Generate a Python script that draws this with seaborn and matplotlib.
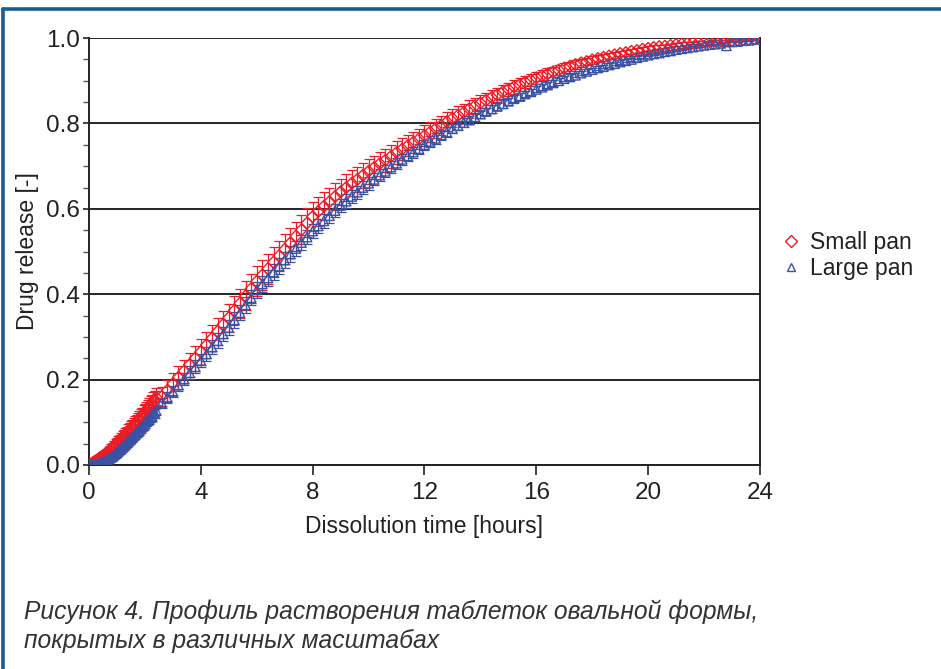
import matplotlib
matplotlib.use("Agg")
import matplotlib.pyplot as plt
from matplotlib.lines import Line2D
from matplotlib.ticker import MultipleLocator
import numpy as np
import pandas as pd
import seaborn as sns

# sampling schedule: dense start (3 min), then every 12 min
t_dense = np.round(np.arange(0, 49) * 0.05, 3)
t_sparse = np.round(np.arange(13, 121) * 0.2, 3)

small_dense = [
    0.000, 0.001, 0.003, 0.006, 0.008, 0.010, 0.012, 0.015, 0.017, 0.019,
    0.021, 0.024, 0.026, 0.029, 0.031, 0.035, 0.038, 0.041, 0.045, 0.048,
    0.052, 0.055, 0.058, 0.062, 0.065, 0.068, 0.072, 0.075, 0.080, 0.083,
    0.086, 0.090, 0.094, 0.097, 0.101, 0.105, 0.109, 0.113, 0.116, 0.121,
    0.124, 0.129, 0.132, 0.137, 0.141, 0.144, 0.149, 0.153, 0.158,
]
large_dense = [
    0.000, 0.000, 0.000, 0.001, 0.001, 0.002, 0.002, 0.003, 0.005, 0.006,
    0.007, 0.008, 0.009, 0.011, 0.014, 0.016, 0.018, 0.020, 0.023, 0.026,
    0.028, 0.032, 0.035, 0.037, 0.041, 0.044, 0.047, 0.051, 0.054, 0.058,
    0.061, 0.064, 0.068, 0.071, 0.075, 0.078, 0.081, 0.086, 0.089, 0.093,
    0.096, 0.101, 0.104, 0.107, 0.112, 0.115, 0.120, 0.123, 0.128,
]
small_dense_sd = [
    0.000, 0.001, 0.002, 0.003, 0.004, 0.005, 0.006, 0.006, 0.007, 0.007,
    0.008, 0.008, 0.009, 0.009, 0.010, 0.010, 0.011, 0.011, 0.012, 0.012,
    0.012, 0.013, 0.013, 0.013, 0.014, 0.014, 0.014, 0.015, 0.015, 0.015,
    0.016, 0.016, 0.016, 0.017, 0.017, 0.017, 0.018, 0.018, 0.018, 0.019,
    0.019, 0.019, 0.020, 0.020, 0.020, 0.021, 0.021, 0.021, 0.022,
]
large_dense_sd = [
    0.000, 0.000, 0.000, 0.001, 0.001, 0.001, 0.002, 0.002, 0.002, 0.003,
    0.003, 0.003, 0.004, 0.004, 0.004, 0.005, 0.005, 0.005, 0.006, 0.006,
    0.006, 0.006, 0.007, 0.007, 0.007, 0.007, 0.008, 0.008, 0.008, 0.008,
    0.008, 0.009, 0.009, 0.009, 0.009, 0.009, 0.010, 0.010, 0.010, 0.010,
    0.010, 0.010, 0.011, 0.011, 0.011, 0.011, 0.011, 0.012, 0.012,
]

# 2.6 h ... 24 h, one row per hour
small_sparse = [
    0.160, 0.175, 0.190,
    0.205, 0.220, 0.235, 0.250, 0.265,
    0.281, 0.297, 0.313, 0.329, 0.345,
    0.362, 0.379, 0.396, 0.413, 0.430,
    0.445, 0.460, 0.475, 0.490, 0.505,
    0.520, 0.536, 0.551, 0.567, 0.582,
    0.594, 0.606, 0.617, 0.629, 0.640,
    0.650, 0.660, 0.669, 0.679, 0.688,
    0.697, 0.706, 0.714, 0.723, 0.732,
    0.740, 0.748, 0.756, 0.764, 0.772,
    0.780, 0.788, 0.796, 0.804, 0.812,
    0.819, 0.826, 0.834, 0.841, 0.848,
    0.854, 0.861, 0.867, 0.874, 0.880,
    0.886, 0.891, 0.897, 0.902, 0.907,
    0.912, 0.916, 0.921, 0.925, 0.930,
    0.934, 0.938, 0.942, 0.945, 0.949,
    0.952, 0.955, 0.958, 0.961, 0.964,
    0.966, 0.969, 0.971, 0.974, 0.976,
    0.978, 0.980, 0.981, 0.983, 0.985,
    0.986, 0.987, 0.989, 0.990, 0.991,
    0.992, 0.993, 0.994, 0.994, 0.995,
    0.996, 0.997, 0.997, 0.998, 0.999,
]
large_sparse = [
    0.145, 0.158, 0.172,
    0.187, 0.201, 0.216, 0.230, 0.245,
    0.260, 0.276, 0.291, 0.307, 0.322,
    0.340, 0.357, 0.375, 0.392, 0.410,
    0.424, 0.438, 0.452, 0.466, 0.480,
    0.494, 0.507, 0.521, 0.534, 0.548,
    0.560, 0.572, 0.584, 0.596, 0.608,
    0.618, 0.629, 0.639, 0.650, 0.660,
    0.669, 0.679, 0.688, 0.698, 0.707,
    0.716, 0.724, 0.733, 0.741, 0.750,
    0.758, 0.765, 0.773, 0.780, 0.788,
    0.795, 0.802, 0.808, 0.815, 0.822,
    0.828, 0.834, 0.840, 0.846, 0.852,
    0.858, 0.863, 0.869, 0.874, 0.880,
    0.885, 0.890, 0.895, 0.900, 0.905,
    0.909, 0.913, 0.918, 0.922, 0.926,
    0.930, 0.933, 0.937, 0.940, 0.944,
    0.947, 0.950, 0.954, 0.957, 0.960,
    0.963, 0.965, 0.968, 0.970, 0.973,
    0.975, 0.977, 0.979, 0.981, 0.983,
    0.985, 0.986, 0.988, 0.982, 0.991,
    0.992, 0.994, 0.995, 0.997, 0.998,
]
small_sparse_sd = [
    0.022, 0.024, 0.025,
    0.026, 0.027, 0.028, 0.029, 0.030,
    0.031, 0.031, 0.032, 0.032, 0.033,
    0.033, 0.034, 0.034, 0.034, 0.035,
    0.035, 0.035, 0.035, 0.035, 0.035,
    0.035, 0.034, 0.034, 0.034, 0.033,
    0.033, 0.033, 0.032, 0.032, 0.031,
    0.031, 0.030, 0.030, 0.029, 0.029,
    0.028, 0.028, 0.027, 0.027, 0.026,
    0.026, 0.025, 0.025, 0.024, 0.024,
    0.023, 0.023, 0.022, 0.022, 0.021,
    0.021, 0.020, 0.020, 0.019, 0.019,
    0.018, 0.018, 0.017, 0.017, 0.016,
    0.016, 0.015, 0.015, 0.014, 0.014,
    0.013, 0.013, 0.012, 0.012, 0.011,
    0.011, 0.010, 0.010, 0.009, 0.009,
    0.009, 0.008, 0.008, 0.007, 0.007,
    0.007, 0.006, 0.006, 0.006, 0.005,
    0.005, 0.005, 0.004, 0.004, 0.004,
    0.004, 0.003, 0.003, 0.003, 0.003,
    0.002, 0.002, 0.002, 0.002, 0.002,
    0.002, 0.001, 0.001, 0.001, 0.001,
]
large_sparse_sd = [
    0.012, 0.013, 0.013,
    0.014, 0.014, 0.015, 0.015, 0.016,
    0.016, 0.016, 0.017, 0.017, 0.017,
    0.018, 0.018, 0.018, 0.018, 0.018,
    0.018, 0.018, 0.018, 0.018, 0.018,
    0.018, 0.018, 0.017, 0.017, 0.017,
    0.017, 0.017, 0.016, 0.016, 0.016,
    0.016, 0.015, 0.015, 0.015, 0.015,
    0.014, 0.014, 0.014, 0.014, 0.013,
    0.013, 0.013, 0.013, 0.012, 0.012,
    0.012, 0.012, 0.011, 0.011, 0.011,
    0.011, 0.010, 0.010, 0.010, 0.010,
    0.009, 0.009, 0.009, 0.009, 0.008,
    0.008, 0.008, 0.008, 0.007, 0.007,
    0.007, 0.007, 0.006, 0.006, 0.006,
    0.006, 0.005, 0.005, 0.005, 0.005,
    0.005, 0.004, 0.004, 0.004, 0.004,
    0.004, 0.003, 0.003, 0.003, 0.003,
    0.003, 0.003, 0.002, 0.002, 0.002,
    0.002, 0.002, 0.002, 0.002, 0.002,
    0.002, 0.001, 0.001, 0.001, 0.001,
    0.001, 0.001, 0.001, 0.001, 0.001,
]

series_names = ["Small pan", "Large pan"]
colors = {"Small pan": "#ec1c24", "Large pan": "#3a52a4"}
markers = {"Small pan": "D", "Large pan": "^"}
caption = ("Рисунок 4. Профиль растворения таблеток овальной формы,\n"
           "покрытых в различных масштабах")

frames = []
for name, dense, sparse, sd_d, sd_s in [
    ("Small pan", small_dense, small_sparse, small_dense_sd, small_sparse_sd),
    ("Large pan", large_dense, large_sparse, large_dense_sd, large_sparse_sd),
]:
    frames.append(pd.DataFrame({
        "time": np.concatenate([t_dense, t_sparse]),
        "release": dense + sparse,
        "sd": sd_d + sd_s,
        "series": name,
    }))
df = pd.concat(frames, ignore_index=True)

sns.set_theme(style="white")
plt.rcParams["font.family"] = ["Liberation Sans", "DejaVu Sans"]

fig = plt.figure(figsize=(9.41, 6.69), dpi=100)
ax = fig.add_axes([0.0946, 0.305, 0.713, 0.638])

for name in series_names:
    d = df[df["series"] == name]
    ax.errorbar(d["time"], d["release"], yerr=d["sd"], fmt="none",
                ecolor=colors[name], elinewidth=0.9, capsize=3.4,
                capthick=0.9, zorder=2)
    sns.scatterplot(data=d, x="time", y="release", marker=markers[name],
                    s=36 if name == "Small pan" else 46, ax=ax, zorder=3,
                    legend=False)
    pc = ax.collections[-1]
    pc.set_facecolor("none")
    pc.set_edgecolor(colors[name])
    pc.set_linewidth(1.0)

ax.set_xlim(0, 24)
ax.set_ylim(0, 1.0)
ax.xaxis.set_major_locator(MultipleLocator(4))
ax.yaxis.set_major_locator(MultipleLocator(0.2))
ax.yaxis.set_minor_locator(MultipleLocator(0.05))
ax.yaxis.set_major_formatter(lambda v, pos: f"{v:.1f}")
ax.grid(axis="y", color="black", linewidth=1.2)
ax.set_axisbelow(True)
for side in ["left", "bottom", "right"]:
    ax.spines[side].set_visible(True)
    ax.spines[side].set_color("#222222")
    ax.spines[side].set_linewidth(1.4)
ax.spines["top"].set_visible(False)
ax.tick_params(axis="y", which="major", left=True, length=4, width=1.2,
               color="#222222", labelsize=17.5, pad=2.5, labelcolor="#222222")
ax.tick_params(axis="y", which="minor", left=True, length=4, width=1.0,
               color="#555555")
ax.tick_params(axis="x", which="major", bottom=True, length=7, width=1.2,
               color="#222222", labelsize=17.5, pad=5, labelcolor="#222222")
ax.set_xlabel("Dissolution time [hours]", fontsize=16.5, color="#222222",
              labelpad=8)
ax.set_ylabel("Drug release [-]", fontsize=16.5, color="#222222", labelpad=5)

handles = [
    Line2D([], [], linestyle="none", marker=markers[n], markersize=6,
           markerfacecolor="none", markeredgecolor=colors[n],
           markeredgewidth=1.0, label=n)
    for n in series_names
]
ax.legend(handles=handles, loc="center left", bbox_to_anchor=(1.01, 0.49),
          frameon=False, fontsize=16.5, handlelength=0.7, handletextpad=0.5,
          labelspacing=0.12, labelcolor="#222222", borderpad=0.2)

# frame lines along the top and left edges
frame_color = "#1a5d8e"
fig.add_artist(Line2D([0.003, 1.0], [0.986, 0.986], color=frame_color,
                      linewidth=2.6, transform=fig.transFigure))
fig.add_artist(Line2D([0.003, 0.003], [0.0, 0.986], color=frame_color,
                      linewidth=2.6, transform=fig.transFigure))

fig.text(0.026, 0.064, caption, fontsize=17.7, style="italic",
         family=["Liberation Sans Narrow", "Liberation Sans", "DejaVu Sans"],
         color="#333333", va="center", ha="left", linespacing=1.25)

fig.savefig("out.png", dpi=100)
